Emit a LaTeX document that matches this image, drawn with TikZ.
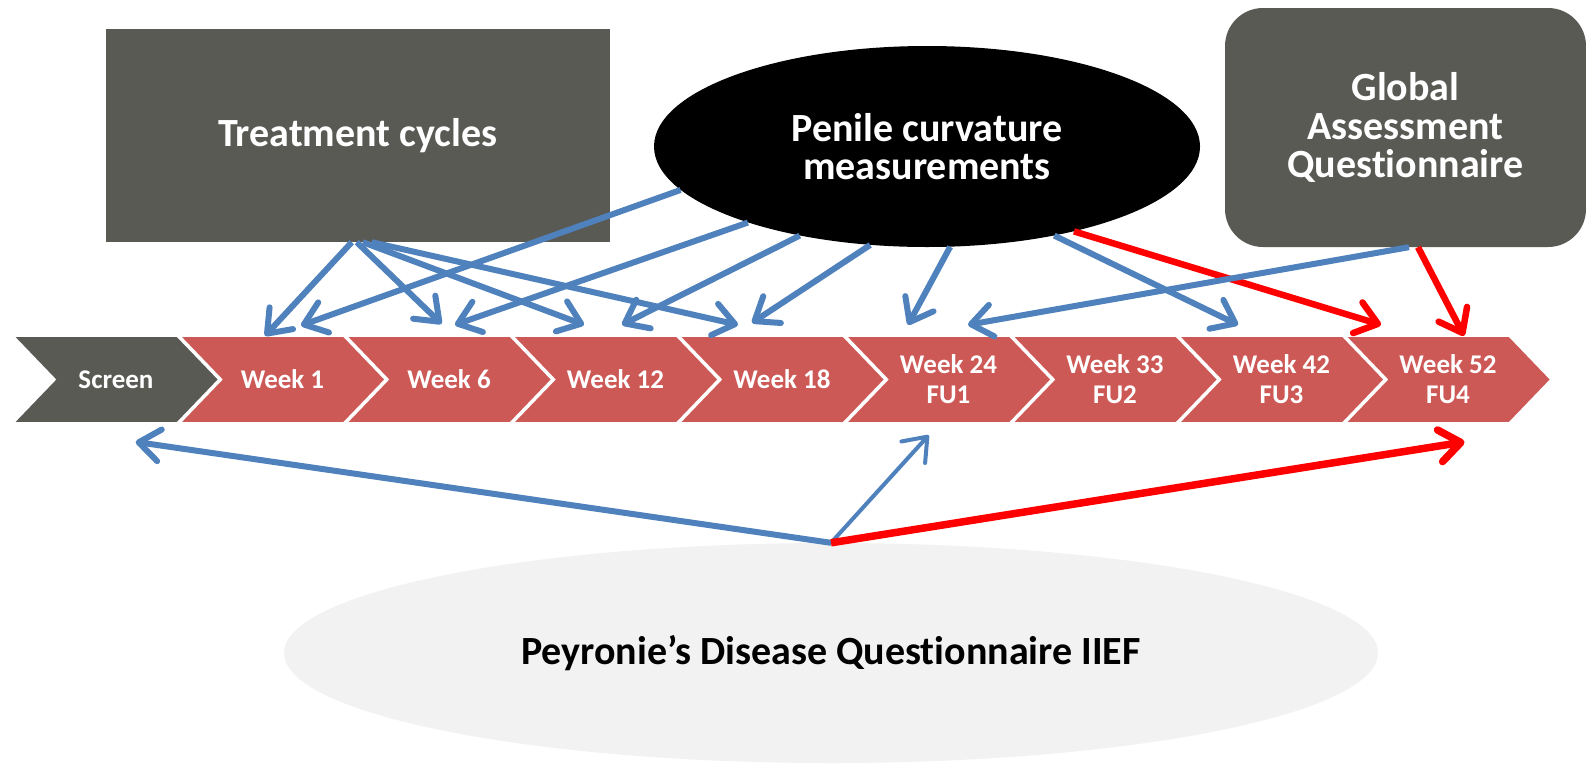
\documentclass[tikz,border=0pt]{standalone}
\usepackage{fontspec}
\setmainfont{Carlito}[Ligatures={NoCommon}]
\usetikzlibrary{arrows.meta,shapes.geometric,backgrounds}
\definecolor{dgray}{RGB}{90,90,85}
\definecolor{chev}{RGB}{205,89,86}
\definecolor{oblue}{RGB}{79,129,189}
\definecolor{lgray}{RGB}{242,242,242}
\begin{document}
\begin{tikzpicture}[x=1pt,y=-1pt,
  chevnode/.style={minimum width=206pt, minimum height=87pt, inner sep=0pt, text=white,
    font=\fontsize{27}{30}\selectfont\bfseries, align=center},
  bigtext/.style={font=\fontsize{40}{38.5}\selectfont\bfseries, align=center},
  bl/.style={draw=oblue, line width=6pt, -{Straight Barb[round,length=21pt,width=32pt]}},
  rd/.style={draw=red, line width=6.5pt, -{Straight Barb[round,length=21pt,width=32pt]}}
]
\useasboundingbox (0,0) rectangle (1586,763);

% top boxes
\node[fill=dgray, minimum width=504.5pt, minimum height=213pt, inner sep=0pt,
  text=white, bigtext] (tc) at (357.75,135.5) {Treatment cycles};
\node[ellipse, fill=black, minimum width=546pt, minimum height=201pt, inner sep=0pt,
  text=white, bigtext] (pc) at (927,146.5) {Penile curvature\\measurements};
\node[fill=dgray, rounded corners=38pt, minimum width=361pt, minimum height=239pt,
  inner sep=0pt, text=white, bigtext] (ga) at (1405.5,127.5) {Global\\Assessment\\Questionnaire};

% bottom ellipse
\node[ellipse, fill=lgray, minimum width=1094pt, minimum height=220pt, inner sep=0pt,
  text=black, bigtext] (pe) at (831,653) {Peyronie’s Disease Questionnaire IIEF};

% chevron timeline
\node[chevnode] (sc)  at (116,379.5)    {Screen};
\node[chevnode] (w1)  at (282.5,379.5)  {Week 1};
\node[chevnode] (w6)  at (449,379.5)    {Week 6};
\node[chevnode] (w12) at (615.5,379.5)  {Week 12};
\node[chevnode] (w18) at (782,379.5)    {Week 18};
\node[chevnode] (w24) at (948.5,379.5)  {Week 24\\FU1};
\node[chevnode] (w33) at (1115,379.5)   {Week 33\\FU2};
\node[chevnode] (w42) at (1281.5,379.5) {Week 42\\FU3};
\node[chevnode] (w52) at (1448,379.5)   {Week 52\\FU4};

\begin{scope}[on background layer]
  \fill[white] (0,0) rectangle (1586,763);
  \foreach \n/\c in {sc/dgray,w1/chev,w6/chev,w12/chev,w18/chev,w24/chev,w33/chev,w42/chev,w52/chev}{
    \filldraw[fill=\c, draw=white, line width=2pt, line join=miter]
      (\n.north west) -- ([xshift=-42pt]\n.north east) -- (\n.east)
      -- ([xshift=-42pt]\n.south east) -- (\n.south west) -- ([xshift=42pt]\n.west) -- cycle;
  }
\end{scope}

% treatment cycles arrows
\draw[bl] ([xshift=-6pt]tc.south) -- ([shift={(-17.5,0)}]w1.north);
\draw[bl] ([xshift=-1pt]tc.south) -- ([shift={(-7.5,-12)}]w6.north);
\draw[bl] ([xshift=5pt]tc.south)  -- ([shift={(-31.5,-11)}]w12.north);
\draw[bl] ([xshift=14pt]tc.south) -- ([shift={(-44,-11)}]w18.north);

% penile curvature arrows
\draw[bl] (pc.-170.8) -- ([shift={(18.5,-10.3)}]w1.north);
\draw[bl] (pc.-157.2) -- ([shift={(6,-11)}]w6.north);
\draw[bl] (pc.-145)   -- ([shift={(6.5,-11)}]w12.north);
\draw[bl] (pc.-120.1) -- ([shift={(-30,-13)}]w18.north);
\draw[bl] (pc.-77.6)  -- ([shift={(-40.5,-11)}]w24.north);
\draw[bl] (pc.-35.3)  -- ([shift={(-43.5,-11)}]w42.north);
\draw[rd] (pc.-30.8)  -- ([shift={(-67,-11)}]w52.north);

% global assessment arrows
\draw[bl] ([xshift=3.5pt]ga.south)  -- ([shift={(19.5,-11)}]w24.north);
\draw[rd] ([xshift=12.5pt]ga.south) -- ([shift={(16,0)}]w52.north);

% Peyronie arrows
\draw[bl] (pe.north) -- ([shift={(19.7,18.7)}]sc.south);
\draw[bl, line width=4pt] (pe.north) -- ([shift={(-19.8,12)}]w24.south);
\draw[rd, line width=7.5pt] (pe.north) -- ([shift={(16.5,18.7)}]w52.south);
\end{tikzpicture}
\end{document}
